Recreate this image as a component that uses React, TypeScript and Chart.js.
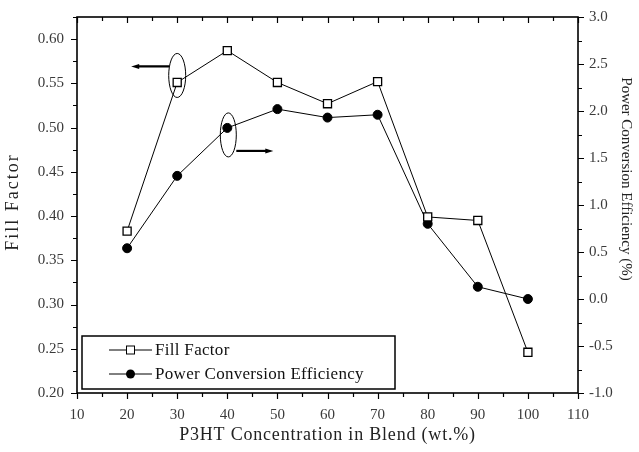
import React, { useEffect, useRef } from "react";
import { Chart, registerables } from "chart.js";

Chart.register(...registerables);

const concentration = [20, 30, 40, 50, 60, 70, 80, 90, 100];
const fillFactor = [0.383, 0.551, 0.587, 0.551, 0.527, 0.552, 0.399, 0.395, 0.246];
const pce = [0.54, 1.31, 1.82, 2.02, 1.93, 1.96, 0.8, 0.13, 0.0];

const xTicks = [10, 20, 30, 40, 50, 60, 70, 80, 90, 100, 110];
const ffTicks = [0.2, 0.25, 0.3, 0.35, 0.4, 0.45, 0.5, 0.55, 0.6];
const pceTicks = [-1.0, -0.5, 0.0, 0.5, 1.0, 1.5, 2.0, 2.5, 3.0];

const FONT = "'Liberation Serif', 'Times New Roman', serif";

const decorPlugin = {
  id: "decor",
  afterDatasetsDraw(chart: any) {
    const ctx = chart.ctx;
    const { left, right, top, bottom } = chart.chartArea;
    const xs = chart.scales.x;
    const yl = chart.scales.y;
    const yr = chart.scales.y1;
    ctx.save();
    ctx.strokeStyle = "#000";
    ctx.fillStyle = "#000";
    // frame
    ctx.lineWidth = 1.6;
    ctx.strokeRect(left, top, right - left, bottom - top);
    ctx.lineWidth = 1.2;
    ctx.beginPath();
    for (let v = 10; v <= 110; v += 5) {
      const px = Math.round(xs.getPixelForValue(v)) + 0.5;
      const major = v % 10 === 0;
      const len = major ? 6 : 4;
      ctx.moveTo(px, bottom);
      ctx.lineTo(px, bottom + len);
      ctx.moveTo(px, top);
      ctx.lineTo(px, top + len);
    }
    for (let i = 0; i <= 17; i++) {
      const v = 0.2 + i * 0.025;
      const py = Math.round(yl.getPixelForValue(v)) + 0.5;
      const len = i % 2 === 0 ? 6 : 4;
      ctx.moveTo(left, py);
      ctx.lineTo(left - len, py);
    }
    for (let i = 0; i <= 16; i++) {
      const v = -1 + i * 0.25;
      const py = Math.round(yr.getPixelForValue(v)) + 0.5;
      const len = i % 2 === 0 ? 6 : 4;
      ctx.moveTo(right, py);
      ctx.lineTo(right + len, py);
    }
    ctx.stroke();

    // annotations: ellipses + arrows
    ctx.lineWidth = 1;
    const p1x = xs.getPixelForValue(concentration[1]);
    const p1y = yl.getPixelForValue(fillFactor[1]);
    ctx.beginPath();
    ctx.ellipse(p1x, p1y - 7, 8.5, 22, 0, 0, Math.PI * 2);
    ctx.stroke();
    const a1y = p1y - 16;
    ctx.lineWidth = 2.2;
    ctx.beginPath();
    ctx.moveTo(p1x - 8, a1y);
    ctx.lineTo(p1x - 40, a1y);
    ctx.stroke();
    ctx.beginPath();
    ctx.moveTo(p1x - 46, a1y);
    ctx.lineTo(p1x - 38, a1y - 2.5);
    ctx.lineTo(p1x - 38, a1y + 2.5);
    ctx.closePath();
    ctx.fill();

    ctx.lineWidth = 1;
    const p2x = xs.getPixelForValue(concentration[2]);
    const p2y = yr.getPixelForValue(pce[2]);
    ctx.beginPath();
    ctx.ellipse(p2x + 1, p2y + 7, 8, 22, 0, 0, Math.PI * 2);
    ctx.stroke();
    const a2y = p2y + 23;
    ctx.lineWidth = 2.2;
    ctx.beginPath();
    ctx.moveTo(p2x + 9, a2y);
    ctx.lineTo(p2x + 40, a2y);
    ctx.stroke();
    ctx.beginPath();
    ctx.moveTo(p2x + 46, a2y);
    ctx.lineTo(p2x + 38, a2y - 2.5);
    ctx.lineTo(p2x + 38, a2y + 2.5);
    ctx.closePath();
    ctx.fill();

    // legend box
    const bx = left + 5, by = 336, bw = 313, bh = 53;
    ctx.lineWidth = 1.5;
    ctx.strokeRect(bx, by, bw, bh);
    const rows = [
      { label: "Fill Factor", y: by + 14, square: true },
      { label: "Power Conversion Efficiency", y: by + 38, square: false },
    ];
    ctx.font = `17px ${FONT}`;
    (ctx as any).letterSpacing = "0.3px";
    ctx.textBaseline = "middle";
    ctx.textAlign = "left";
    for (const r of rows) {
      ctx.lineWidth = 1;
      ctx.beginPath();
      ctx.moveTo(bx + 27, r.y);
      ctx.lineTo(bx + 70, r.y);
      ctx.stroke();
      if (r.square) {
        ctx.fillStyle = "#fff";
        ctx.fillRect(bx + 44.5, r.y - 4, 8, 8);
        ctx.strokeRect(bx + 44.5, r.y - 4, 8, 8);
        ctx.fillStyle = "#000";
      } else {
        ctx.beginPath();
        ctx.arc(bx + 48.5, r.y, 4.5, 0, Math.PI * 2);
        ctx.fill();
      }
      ctx.fillStyle = "#111";
      ctx.fillText(r.label, bx + 73, r.y + 1);
      ctx.fillStyle = "#000";
    }

    // axis titles
    ctx.fillStyle = "#222";
    ctx.font = `18px ${FONT}`;
    (ctx as any).letterSpacing = "0.8px";
    ctx.textAlign = "center";
    ctx.textBaseline = "middle";
    ctx.fillText("P3HT Concentration in Blend (wt.%)", (left + right) / 2, 435);
    ctx.font = `18px ${FONT}`;
    (ctx as any).letterSpacing = "2px";
    ctx.save();
    ctx.translate(13, 202);
    ctx.rotate(-Math.PI / 2);
    ctx.fillText("Fill Factor", 0, 0);
    ctx.restore();
    ctx.font = `15px ${FONT}`;
    (ctx as any).letterSpacing = "0px";
    ctx.save();
    ctx.translate(626, 179);
    ctx.rotate(Math.PI / 2);
    ctx.fillText("Power Conversion Efficiency (%)", 0, 0);
    ctx.restore();
    ctx.restore();
  },
};

export default function App() {
  const ref = useRef<HTMLCanvasElement | null>(null);
  useEffect(() => {
    document.body.style.margin = "0";
    const canvas = ref.current;
    if (!canvas) return;
    const tickFont = { family: FONT, size: 15 };
    const fitY = (w: number) => (s: any) => {
      s.width = w;
      s.paddingTop = 0;
      s.paddingBottom = 0;
    };
    const chart = new Chart(canvas, {
      type: "line",
      data: {
        datasets: [
          {
            label: "Fill Factor",
            data: concentration.map((x, i) => ({ x, y: fillFactor[i] })),
            yAxisID: "y",
            borderColor: "#000",
            borderWidth: 1,
            pointStyle: "rect",
            pointRadius: 5.7,
            pointBackgroundColor: "#fff",
            pointBorderColor: "#000",
            pointBorderWidth: 1.3,
            tension: 0,
          },
          {
            label: "Power Conversion Efficiency",
            data: concentration.map((x, i) => ({ x, y: pce[i] })),
            yAxisID: "y1",
            borderColor: "#000",
            borderWidth: 1,
            pointStyle: "circle",
            pointRadius: 4.5,
            pointBackgroundColor: "#000",
            pointBorderColor: "#000",
            pointBorderWidth: 1,
            tension: 0,
          },
        ],
      },
      options: {
        responsive: false,
        animation: false,
        layout: { padding: { top: 17, left: 0, right: 0, bottom: 0 } },
        plugins: { legend: { display: false }, tooltip: { enabled: false } },
        scales: {
          x: {
            type: "linear",
            min: 10,
            max: 110,
            grid: { display: false, drawTicks: false },
            border: { display: false },
            afterBuildTicks: (s: any) => {
              s.ticks = xTicks.map((v) => ({ value: v }));
            },
            afterFit: (s: any) => {
              s.height = 59;
              s.paddingLeft = 0;
              s.paddingRight = 0;
            },
            ticks: {
              font: tickFont,
              color: "#3a3a3a",
              padding: 13,
              maxRotation: 0,
              callback: (v: any) => String(v),
            },
          },
          y: {
            type: "linear",
            position: "left",
            min: 0.2,
            max: 0.625,
            grid: { display: false, drawTicks: false },
            border: { display: false },
            afterBuildTicks: (s: any) => {
              s.ticks = ffTicks.map((v) => ({ value: v }));
            },
            afterFit: fitY(77),
            ticks: {
              font: tickFont,
              color: "#3a3a3a",
              padding: 13,
              callback: (v: any) => Number(v).toFixed(2),
            },
          },
          y1: {
            type: "linear",
            position: "right",
            min: -1,
            max: 3,
            grid: { display: false, drawTicks: false },
            border: { display: false },
            afterBuildTicks: (s: any) => {
              s.ticks = pceTicks.map((v) => ({ value: v }));
            },
            afterFit: fitY(61),
            ticks: {
              font: tickFont,
              color: "#3a3a3a",
              padding: 11,
              callback: (v: any) => Number(v).toFixed(1),
            },
          },
        },
      },
      plugins: [decorPlugin],
    } as any);
    return () => chart.destroy();
  }, []);
  return (
    <div style={{ width: 639, height: 452 }}>
      <canvas ref={ref} width={639} height={452} style={{ display: "block" }} />
    </div>
  );
}
